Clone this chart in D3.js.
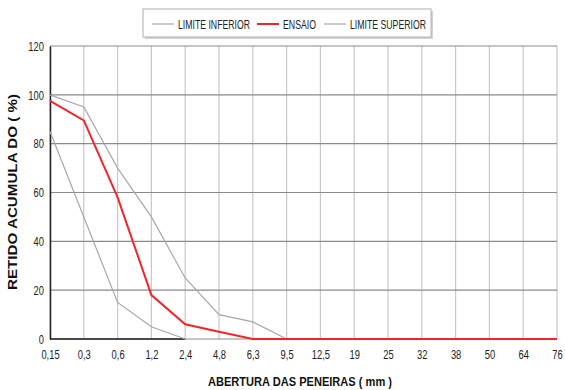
<!DOCTYPE html>
<html>
<head>
<meta charset="utf-8">
<script src="https://cdn.jsdelivr.net/npm/d3@7"></script>
<style>
  html, body { margin: 0; padding: 0; background: #fff; }
  svg { display: block; }
  text { font-family: "Liberation Sans", Arial, sans-serif; }
</style>
</head>
<body>
<svg id="chart" width="565" height="390"></svg>
<script>
// Sieve openings (mm) shown as evenly spaced categories
const sieves = ["0,15","0,3","0,6","1,2","2,4","4,8","6,3","9,5","12,5","19","25","32","38","50","64","76"];
const yTicks = [0, 20, 40, 60, 80, 100, 120];

// Cumulative retained (%) per sieve
const limiteInferior = [85, 50, 15, 5, 0];
const ensaio = [97.5, 89.5, 58, 18, 6, 3, 0, 0, 0, 0, 0, 0, 0, 0, 0, 0];
const limiteSuperior = [100, 95, 70, 50, 25, 10, 7, 0];

const svg = d3.select("#chart");
const plotLeft = 50, plotRight = 557, plotTop = 46, plotBottom = 339;

// Narrow the glyphs to a condensed look
function condense(sel, factor) {
  sel.each(function () {
    const w = this.getComputedTextLength();
    d3.select(this).attr("textLength", w * factor).attr("lengthAdjust", "spacingAndGlyphs");
  });
}

const x = d3.scalePoint().domain(sieves).range([plotLeft, plotRight]);
const y = d3.scaleLinear().domain([0, 120]).range([plotBottom, plotTop]);

// Vertical grid
svg.append("g").selectAll("line").data(sieves).join("line")
  .attr("x1", d => x(d)).attr("x2", d => x(d))
  .attr("y1", y(120)).attr("y2", y(0))
  .attr("stroke", "#c8c8c8").attr("stroke-width", 1.2);

// Horizontal grid
svg.append("g").selectAll("line").data(yTicks).join("line")
  .attr("x1", plotLeft).attr("x2", plotRight)
  .attr("y1", d => y(d)).attr("y2", d => y(d))
  .attr("stroke", "#8a8a8a").attr("stroke-width", 1.2);

// Value axis
const yAxis = d3.axisLeft(y).tickValues(yTicks).tickSize(0).tickPadding(6);
const gy = svg.append("g").attr("transform", `translate(${plotLeft},0)`).call(yAxis);
gy.select(".domain").attr("stroke", "#222").attr("stroke-width", 1.5);
gy.selectAll("text").attr("font-size", 13).attr("fill", "#222").call(condense, 0.72);

// Category axis labels
const xAxis = d3.axisBottom(x).tickSize(0).tickPadding(11);
const gx = svg.append("g").attr("transform", `translate(0,${plotBottom})`).call(xAxis);
gx.select(".domain").remove();
gx.selectAll("text").attr("font-size", 13).attr("fill", "#222").call(condense, 0.72);

// Dark base under the lower-limit range
svg.append("line")
  .attr("x1", x(sieves[0])).attr("x2", x(sieves[limiteInferior.length - 1]))
  .attr("y1", y(0)).attr("y2", y(0))
  .attr("stroke", "#222").attr("stroke-width", 1.6);

const line = d3.line().x((d, i) => x(sieves[i])).y(d => y(d));

svg.append("path").datum(limiteInferior).attr("d", line)
  .attr("fill", "none").attr("stroke", "#a8a8a8").attr("stroke-width", 1.2);
svg.append("path").datum(limiteSuperior).attr("d", line)
  .attr("fill", "none").attr("stroke", "#a8a8a8").attr("stroke-width", 1.2);
svg.append("path").datum(ensaio).attr("d", line)
  .attr("fill", "none").attr("stroke", "#f0262b").attr("stroke-width", 2);

// Axis titles
svg.append("text")
  .attr("x", 300).attr("y", 386)
  .attr("text-anchor", "middle").attr("font-size", 13).attr("font-weight", "bold")
  .attr("fill", "#111")
  .attr("textLength", 184).attr("lengthAdjust", "spacingAndGlyphs")
  .text("ABERTURA DAS PENEIRAS ( mm )");

svg.append("text")
  .attr("transform", "translate(17,192) rotate(-90)")
  .attr("text-anchor", "middle").attr("font-size", 12).attr("font-weight", "bold")
  .attr("fill", "#111")
  .attr("textLength", 196).attr("lengthAdjust", "spacingAndGlyphs")
  .text("RETIDO ACUMULA DO  ( %)");

// Legend
const legend = svg.append("g");
legend.append("rect").attr("x", 145).attr("y", 11).attr("width", 288).attr("height", 28)
  .attr("fill", "#d4d4d4");
legend.append("rect").attr("x", 143).attr("y", 9).attr("width", 288).attr("height", 28)
  .attr("fill", "#fff").attr("stroke", "#b0b0b0").attr("stroke-width", 1);

const legendItems = [
  { name: "LIMITE INFERIOR", color: "#a8a8a8", w: 1.2, x0: 152, tw: 72 },
  { name: "ENSAIO", color: "#f0262b", w: 2, x0: 257, tw: 33 },
  { name: "LIMITE SUPERIOR", color: "#a8a8a8", w: 1.2, x0: 324, tw: 76 }
];
legendItems.forEach(it => {
  legend.append("line").attr("x1", it.x0).attr("x2", it.x0 + 22)
    .attr("y1", 24).attr("y2", 24)
    .attr("stroke", it.color).attr("stroke-width", it.w);
  legend.append("text").attr("x", it.x0 + 26).attr("y", 28.5)
    .attr("font-size", 13).attr("fill", "#222")
    .attr("textLength", it.tw).attr("lengthAdjust", "spacingAndGlyphs")
    .text(it.name);
});
</script>
</body>
</html>
